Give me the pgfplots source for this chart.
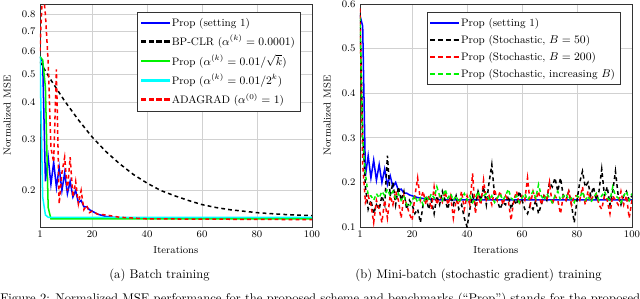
\documentclass[border=0pt]{standalone}
\usepackage{pgfplots}
\pgfplotsset{compat=1.18}
\definecolor{mygreen}{rgb}{0,0.95,0}
\definecolor{mycyan}{rgb}{0,1,1}
\definecolor{myred}{rgb}{1,0,0}
\definecolor{myblue}{rgb}{0,0,1}
\tikzset{
  mysolidline/.style={line width=1.2pt, solid},
  mydashline/.style={line width=1.2pt, dash pattern=on 3pt off 2.5pt},
}
\newcommand\solidimg[1]{\fill[#1] (0pt,-0.6pt) rectangle (22pt,0.6pt);}
\newcommand\dashimg[1]{\fill[#1] (0pt,-0.6pt) rectangle (3.4pt,0.6pt) (6.2pt,-0.6pt) rectangle (9.6pt,0.6pt) (12.4pt,-0.6pt) rectangle (15.8pt,0.6pt) (18.6pt,-0.6pt) rectangle (22pt,0.6pt);}
\pgfplotsset{
  common/.style={
    scale only axis, width=215.9pt, height=177pt, anchor=north west,
    xmin=1, xmax=100, xtick={1,20,40,60,80,100},
    grid=major, grid style={black!18, line width=0.6pt},
    tick label style={font=\footnotesize}, label style={font=\footnotesize},
    xlabel={Iterations}, ylabel={Normalized MSE},
    ylabel style={at={(axis description cs:-0.12,0.5)}, anchor=center},
    major tick length=0pt,
    axis line style={black!80, line width=0.6pt},
    legend style={at={(0.96,0.965)}, anchor=north east, font=\fontsize{8.6}{10}\selectfont, draw=black!80, line width=0.6pt, row sep=1.6pt, inner sep=2.5pt},
    legend cell align=left,
  },
}
\begin{document}
\begin{tikzpicture}[x=1pt,y=1pt]
\useasboundingbox (0,0) rectangle (508,-237.3);
\begin{axis}[common, at={(31.7pt,-3.2pt)}, ymode=log, ymin=0.15, ymax=0.87,
  ytick={0.2,0.3,0.4,0.5,0.6,0.7,0.8}, yticklabels={$0.2$,$0.3$,$0.4$,$0.5$,$0.6$,$0.7$,$0.8$}]
\addlegendimage{legend image code/.code={\solidimg{myblue}}}
\addlegendentry{Prop (setting 1)}
\addlegendimage{legend image code/.code={\dashimg{black}}}
\addlegendentry{BP-CLR ($\alpha^{(k)}=0.0001$)}
\addlegendimage{legend image code/.code={\solidimg{mygreen}}}
\addlegendentry{Prop ($\alpha^{(k)}=0.01/\sqrt{k}$)}
\addlegendimage{legend image code/.code={\solidimg{mycyan}}}
\addlegendentry{Prop ($\alpha^{(k)}=0.01/2^k$)}
\addlegendimage{legend image code/.code={\dashimg{myred}}}
\addlegendentry{ADAGRAD ($\alpha^{(0)}=1$)}
\addplot[mysolidline, myblue, forget plot] coordinates {(1,0.575)(2,0.55)(3,0.215)(4,0.26)(5,0.21)(6,0.25)(7,0.205)(8,0.24)(9,0.20)(10,0.23)(11,0.195)(12,0.215)(13,0.19)(14,0.20)(15,0.182)(16,0.185)(17,0.176)(18,0.176)(19,0.172)(20,0.170)(22,0.166)(25,0.163)(30,0.161)(100,0.161)};
\addplot[mydashline, black, forget plot] coordinates {(1,0.552)(5,0.478)(10,0.405)(15,0.349)(20,0.305)(25,0.272)(30,0.247)(35,0.227)(40,0.212)(45,0.200)(50,0.192)(55,0.185)(60,0.179)(65,0.175)(70,0.172)(75,0.170)(80,0.168)(85,0.1667)(90,0.1656)(95,0.1648)(100,0.1641)};
\addplot[mysolidline, mygreen, forget plot] coordinates {(1,0.575)(2,0.56)(3,0.45)(4,0.175)(5,0.160)(100,0.160)};
\addplot[mysolidline, mycyan, forget plot] coordinates {(1,0.575)(2,0.19)(3,0.165)(4,0.162)(100,0.162)};
\addplot[mydashline, myred, forget plot] coordinates {(1,0.60)(2,1.0)(3,0.80)(4,0.55)(5,0.28)(6,0.25)(7,0.52)(8,0.18)(9,0.23)(10,0.26)(11,0.20)(12,0.26)(13,0.19)(14,0.215)(15,0.18)(16,0.20)(17,0.172)(18,0.178)(19,0.168)(20,0.17)(22,0.166)(25,0.165)(30,0.162)(40,0.160)(100,0.159)};
\end{axis}
\begin{axis}[common, at={(285.7pt,-3.2pt)}, ymin=0.1, ymax=0.6,
  ytick={0.1,0.2,0.3,0.4,0.5,0.6}, yticklabels={$0.1$,$0.2$,$0.3$,$0.4$,$0.5$,$0.6$}]
\addlegendimage{legend image code/.code={\solidimg{myblue}}}
\addlegendentry{Prop (setting 1)}
\addlegendimage{legend image code/.code={\dashimg{black}}}
\addlegendentry{Prop (Stochastic, $B=50$)}
\addlegendimage{legend image code/.code={\dashimg{myred}}}
\addlegendentry{Prop (Stochastic, $B=200$)}
\addlegendimage{legend image code/.code={\dashimg{mygreen}}}
\addlegendentry{Prop (Stochastic, increasing $B$)}
\addplot[mysolidline, myblue, forget plot] coordinates {(1,0.575)(2,0.55)(3,0.215)(4,0.26)(5,0.21)(6,0.25)(7,0.205)(8,0.24)(9,0.20)(10,0.23)(11,0.195)(12,0.215)(13,0.19)(14,0.20)(15,0.182)(16,0.185)(17,0.176)(18,0.176)(19,0.172)(20,0.170)(22,0.166)(25,0.163)(30,0.161)(100,0.161)};
\addplot[mydashline, black, forget plot] coordinates {(1,0.58)(2,0.31)(3,0.19)(4,0.14)(5,0.16)(6,0.13)(7,0.15)(8,0.14)(9,0.17)(10,0.15)(11,0.26)(12,0.17)(13,0.20)(14,0.15)(15,0.19)(16,0.16)(17,0.18)(18,0.14)(19,0.16)(20,0.15)(21,0.13)(22,0.14)(23,0.11)(24,0.15)(25,0.17)(26,0.14)(27,0.16)(28,0.13)(29,0.17)(30,0.15)(31,0.18)(32,0.16)(33,0.14)(34,0.17)(35,0.15)(36,0.17)(37,0.14)(38,0.15)(39,0.12)(40,0.10)(41,0.14)(42,0.17)(43,0.15)(44,0.18)(45,0.16)(46,0.19)(47,0.15)(48,0.20)(49,0.24)(50,0.17)(51,0.16)(52,0.14)(53,0.155)(54,0.15)(55,0.17)(56,0.14)(57,0.16)(58,0.15)(59,0.18)(60,0.16)(61,0.14)(62,0.13)(63,0.15)(64,0.14)(65,0.16)(66,0.13)(67,0.15)(68,0.17)(69,0.16)(70,0.20)(71,0.19)(72,0.21)(73,0.18)(74,0.21)(75,0.17)(76,0.16)(77,0.18)(78,0.15)(79,0.11)(80,0.16)(81,0.20)(82,0.225)(83,0.19)(84,0.20)(85,0.17)(86,0.19)(87,0.16)(88,0.18)(89,0.23)(90,0.17)(91,0.19)(92,0.15)(93,0.18)(94,0.225)(95,0.17)(96,0.15)(97,0.17)(98,0.18)(99,0.16)(100,0.17)};
\addplot[mydashline, myred, forget plot] coordinates {(1,0.59)(2,0.24)(3,0.155)(4,0.17)(5,0.15)(6,0.11)(7,0.16)(8,0.14)(9,0.11)(10,0.16)(11,0.12)(12,0.17)(13,0.15)(14,0.18)(15,0.16)(16,0.12)(17,0.17)(18,0.15)(19,0.13)(20,0.115)(21,0.17)(22,0.21)(23,0.16)(24,0.18)(25,0.15)(26,0.17)(27,0.14)(28,0.19)(29,0.15)(30,0.17)(31,0.156)(32,0.18)(33,0.15)(34,0.17)(35,0.12)(36,0.16)(37,0.15)(38,0.18)(39,0.14)(40,0.17)(41,0.15)(42,0.22)(43,0.13)(44,0.17)(45,0.15)(46,0.205)(47,0.16)(48,0.17)(49,0.15)(50,0.185)(51,0.16)(52,0.18)(53,0.15)(54,0.17)(55,0.16)(56,0.115)(57,0.16)(58,0.18)(59,0.15)(60,0.17)(61,0.16)(62,0.21)(63,0.15)(64,0.18)(65,0.16)(66,0.18)(67,0.15)(68,0.17)(69,0.16)(70,0.20)(71,0.15)(72,0.17)(73,0.16)(74,0.13)(75,0.17)(76,0.16)(77,0.18)(78,0.15)(79,0.17)(80,0.17)(81,0.16)(82,0.19)(83,0.15)(84,0.18)(85,0.16)(86,0.17)(87,0.175)(88,0.15)(89,0.14)(90,0.17)(91,0.16)(92,0.13)(93,0.17)(94,0.16)(95,0.15)(96,0.18)(97,0.15)(98,0.17)(99,0.12)(100,0.16)};
\addplot[mydashline, mygreen, forget plot] coordinates {(1,0.57)(2,0.30)(3,0.22)(4,0.17)(5,0.17)(6,0.16)(7,0.175)(8,0.165)(9,0.18)(10,0.17)(11,0.185)(12,0.17)(13,0.18)(14,0.165)(15,0.175)(16,0.16)(17,0.17)(18,0.15)(19,0.145)(20,0.16)(21,0.17)(22,0.155)(23,0.165)(24,0.15)(25,0.17)(26,0.16)(27,0.175)(28,0.165)(29,0.19)(30,0.17)(31,0.16)(32,0.185)(33,0.165)(34,0.175)(35,0.16)(36,0.17)(37,0.155)(38,0.165)(39,0.175)(40,0.16)(41,0.17)(42,0.155)(43,0.165)(44,0.18)(45,0.16)(46,0.17)(47,0.175)(48,0.16)(49,0.17)(50,0.155)(51,0.165)(52,0.175)(53,0.16)(54,0.17)(55,0.185)(56,0.165)(57,0.16)(58,0.17)(59,0.155)(60,0.165)(61,0.175)(62,0.16)(63,0.17)(64,0.18)(65,0.165)(66,0.195)(67,0.17)(68,0.16)(69,0.175)(70,0.165)(71,0.155)(72,0.17)(73,0.18)(74,0.16)(75,0.17)(76,0.175)(77,0.16)(78,0.165)(79,0.155)(80,0.17)(81,0.165)(82,0.18)(83,0.16)(84,0.17)(85,0.155)(86,0.165)(87,0.175)(88,0.16)(89,0.17)(90,0.18)(91,0.165)(92,0.16)(93,0.19)(94,0.17)(95,0.165)(96,0.155)(97,0.17)(98,0.18)(99,0.16)(100,0.175)};
\end{axis}
\node at (126.6,-218.3) {(a) Batch training};
\node at (379.9,-218.3) {(b) Mini-batch (stochastic gradient) training};
\node[anchor=base west, inner sep=0pt] at (0,-240) {Figure 2: Normalized MSE performance for the proposed scheme and benchmarks (``Prop'') stands for the proposed};
\end{tikzpicture}
\end{document}
